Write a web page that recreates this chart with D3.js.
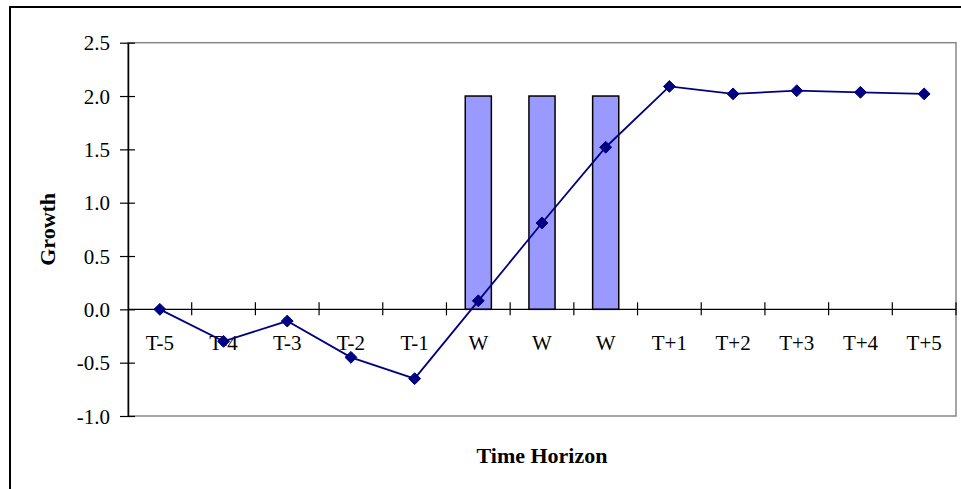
<!DOCTYPE html>
<html>
<head>
<meta charset="utf-8">
<script src="https://cdn.jsdelivr.net/npm/d3@7"></script>
<style>
  html, body { margin: 0; padding: 0; background: #fff; }
  svg { display: block; }
  text { font-family: "Liberation Serif", "Times New Roman", serif; fill: #000; }
</style>
</head>
<body>
<svg id="chart" width="961" height="489"></svg>
<script>
// ---- data ----
const categories = ["T-5", "T-4", "T-3", "T-2", "T-1", "W", "W", "W", "T+1", "T+2", "T+3", "T+4", "T+5"];
const growthValues = [0.0, -0.30, -0.11, -0.45, -0.65, 0.08, 0.81, 1.52, 2.09, 2.02, 2.05, 2.035, 2.02];
const windowBars = [null, null, null, null, null, 2.0, 2.0, 2.0, null, null, null, null, null];
const yTicks = [-1.0, -0.5, 0.0, 0.5, 1.0, 1.5, 2.0, 2.5];
const yLabel = "Growth";
const xLabel = "Time Horizon";

// ---- layout ----
const svg = d3.select("#chart");
const plot = { left: 128, right: 956, top: 42.7, bottom: 416 };
const serif = "Liberation Serif, Times New Roman, serif";

// outer chart frame (extends beyond the visible window right/bottom)
svg.append("rect")
  .attr("x", 10).attr("y", 7)
  .attr("width", 1000).attr("height", 600)
  .attr("fill", "#fff").attr("stroke", "#000").attr("stroke-width", 2);

const idx = categories.map((d, i) => i);
const x = d3.scaleBand().domain(idx).range([plot.left, plot.right]).paddingInner(0).paddingOuter(0);
const y = d3.scaleLinear().domain([-1.0, 2.5]).range([plot.bottom, plot.top]);

// plot area border (grey)
svg.append("rect")
  .attr("x", plot.left).attr("y", plot.top)
  .attr("width", plot.right - plot.left).attr("height", plot.bottom - plot.top)
  .attr("fill", "none").attr("stroke", "#888").attr("stroke-width", 1.5);

// bars
const barW = x.bandwidth() * 0.41;
svg.append("g").selectAll("rect")
  .data(windowBars.map((v, i) => ({ v, i })).filter(d => d.v !== null))
  .join("rect")
  .attr("x", d => x(d.i) + (x.bandwidth() - barW) / 2)
  .attr("y", d => y(d.v))
  .attr("width", barW)
  .attr("height", d => y(0) - y(d.v))
  .attr("fill", "#9999FF")
  .attr("stroke", "#000")
  .attr("stroke-width", 1.5);

// y axis (cross ticks)
const fmt = d => d3.format(".1f")(d).replace("\u2212", "-");
const yAxis = d3.axisLeft(y).tickValues(yTicks).tickFormat(fmt).tickSize(0).tickPadding(0);
const yg = svg.append("g").attr("transform", `translate(${plot.left},0)`).call(yAxis);
yg.attr("font-family", serif).attr("font-size", 21);
yg.select(".domain").attr("stroke", "#000").attr("stroke-width", 1.5);
yg.selectAll(".tick line").attr("x1", -8).attr("x2", 7).attr("stroke", "#000").attr("stroke-width", 1.2);
yg.selectAll(".tick text")
  .attr("x", -18)
  .attr("dy", "0.34em")
  .attr("fill", "#000");

// x axis at zero (cross ticks at band boundaries)
const y0 = y(0);
svg.append("line")
  .attr("x1", plot.left).attr("x2", plot.right)
  .attr("y1", y0).attr("y2", y0)
  .attr("stroke", "#000").attr("stroke-width", 1.2);
const boundaries = d3.range(1, categories.length + 1).map(i => plot.left + x.step() * i);
svg.append("g").selectAll("line")
  .data(boundaries)
  .join("line")
  .attr("x1", d => d).attr("x2", d => d)
  .attr("y1", y0 - 7).attr("y2", y0 + 6)
  .attr("stroke", "#000").attr("stroke-width", 1.2);

// category labels
svg.append("g").selectAll("text")
  .data(categories.map((c, i) => ({ c, i })))
  .join("text")
  .attr("x", d => x(d.i) + x.bandwidth() / 2)
  .attr("y", y0 + 41)
  .attr("text-anchor", "middle")
  .attr("font-family", serif)
  .attr("font-size", 21)
  .text(d => d.c);

// line series
const line = d3.line()
  .x((d, i) => x(i) + x.bandwidth() / 2)
  .y(d => y(d));
svg.append("path")
  .datum(growthValues)
  .attr("d", line)
  .attr("fill", "none")
  .attr("stroke", "#000080")
  .attr("stroke-width", 1.8);

// diamond markers
const diamond = d3.symbol().type(d3.symbolDiamond2).size(90);
svg.append("g").selectAll("path")
  .data(growthValues)
  .join("path")
  .attr("transform", (d, i) => `translate(${x(i) + x.bandwidth() / 2},${y(d)})`)
  .attr("d", diamond)
  .attr("fill", "#000080")
  .attr("stroke", "#000080")
  .attr("stroke-width", 1);

// axis titles
svg.append("text")
  .attr("x", (plot.left + plot.right) / 2)
  .attr("y", 463)
  .attr("text-anchor", "middle")
  .attr("font-family", serif)
  .attr("font-weight", "bold")
  .attr("font-size", 22)
  .text(xLabel);

svg.append("text")
  .attr("transform", `translate(55,${(plot.top + plot.bottom) / 2}) rotate(-90)`)
  .attr("text-anchor", "middle")
  .attr("font-family", serif)
  .attr("font-weight", "bold")
  .attr("font-size", 22)
  .text(yLabel);
</script>
</body>
</html>
